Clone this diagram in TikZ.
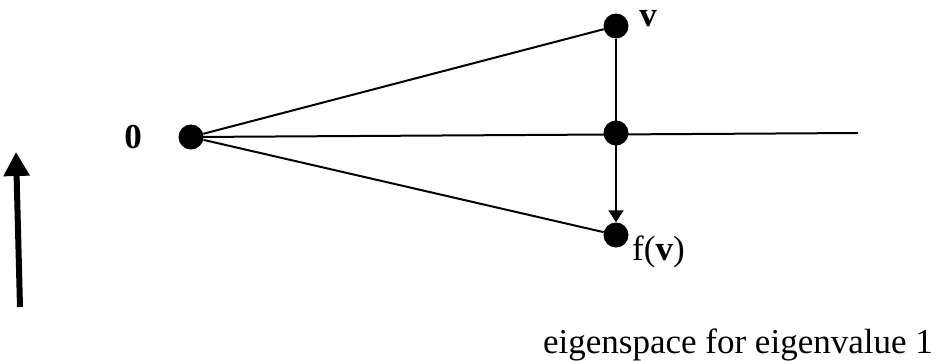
\documentclass[tikz,border=0pt]{standalone}
\usepackage{fontspec}
\setmainfont{Liberation Serif}
\usetikzlibrary{arrows.meta}
\begin{document}
\begin{tikzpicture}[x=1pt,y=-1pt,
  dot/.style={circle,fill=black,inner sep=0pt,minimum size=25pt},
  lbl/.style={font=\fontsize{35}{40}\selectfont,inner sep=0pt},
  blbl/.style={font=\fontsize{35}{40}\selectfont\bfseries,inner sep=0pt},
  ln/.style={line width=2pt}]
\useasboundingbox (0,0) rectangle (940,360);
\node[dot] (o) at (191,137) {};
\node[dot] (m) at (616,133) {};
\node[dot] (v) at (616,26) {};
\node[dot] (fv) at (616,235) {};
\coordinate (e) at (858,133);
\draw[ln] (o) -- (v);
\draw[ln] (o) -- (fv);
\draw[ln] (o.center) -- (e);
\draw[ln,-{Triangle[width=15pt,length=12pt]}] (v) -- (fv);
\node[blbl] (l0) at (133,137) {0};
\node[blbl,anchor=base] (lv) at (648,26) {v};
\node[lbl,anchor=west] (lfv) at (632,252) {f(\textbf{v})};
\node[lbl,anchor=base east] (cap) at (933,353) {eigenspace for eigenvalue 1};
\coordinate (a1) at (20,307);
\coordinate (a2) at (16,152);
\draw[line width=6pt,-{Triangle[width=25pt,length=24pt]}] (a1) -- (a2);
\end{tikzpicture}
\end{document}
